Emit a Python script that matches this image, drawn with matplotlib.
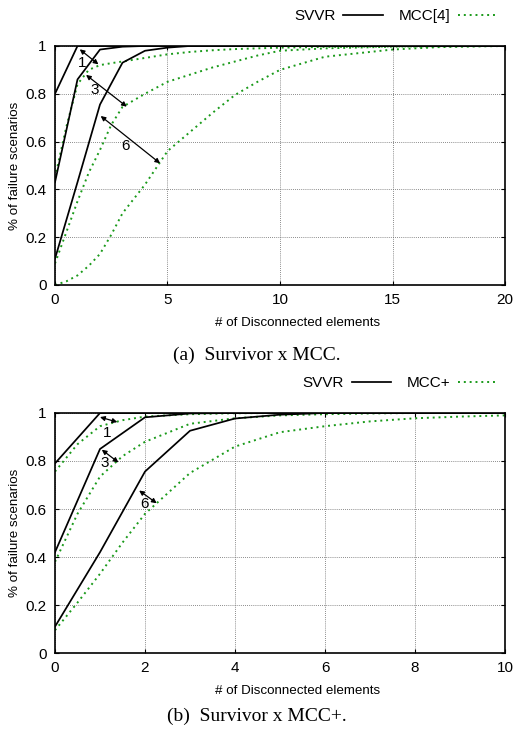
import matplotlib.pyplot as plt

plt.rcParams['font.family'] = ['Liberation Sans', 'DejaVu Sans']

# (a) Survivor x MCC -- SVVR curves (solid) and MCC[4] curves (dotted)
svvr_a_x = [0, 1, 2, 3, 4, 5, 6, 20]
svvr_a_1 = [0.80, 1.0, 1.0, 1.0, 1.0, 1.0, 1.0, 1.0]
svvr_a_3 = [0.43, 0.86, 0.985, 0.997, 1.0, 1.0, 1.0, 1.0]
svvr_a_6 = [0.11, 0.43, 0.755, 0.93, 0.98, 0.993, 1.0, 1.0]

mcc_a_x = [0, 0.5, 1, 1.5, 2, 2.5, 3, 4, 5, 6, 7, 8, 9, 10, 12, 15, 17, 20]
mcc_a_1 = [0.45, 0.66, 0.84, 0.90, 0.92, 0.928, 0.935, 0.95, 0.965, 0.975, 0.982, 0.987,
           0.99, 0.993, 0.996, 0.998, 0.999, 1.0]
mcc_a_3 = [0.09, 0.22, 0.35, 0.47, 0.565, 0.67, 0.745, 0.80, 0.85, 0.88, 0.91, 0.935,
           0.96, 0.98, 0.99, 0.997, 0.999, 1.0]
mcc_a_6 = [0.0, 0.015, 0.04, 0.08, 0.13, 0.21, 0.30, 0.42, 0.56, 0.64, 0.72, 0.795,
           0.85, 0.90, 0.955, 0.985, 0.995, 1.0]

# (b) Survivor x MCC+
svvr_b_x = [0, 1, 2, 3, 4, 5, 6, 10]
svvr_b_1 = [0.79, 1.0, 1.0, 1.0, 1.0, 1.0, 1.0, 1.0]
svvr_b_3 = [0.42, 0.85, 0.982, 0.998, 1.0, 1.0, 1.0, 1.0]
svvr_b_6 = [0.11, 0.42, 0.756, 0.926, 0.977, 0.993, 1.0, 1.0]

mcc_b_x = [0, 0.5, 1, 1.5, 2, 3, 4, 5, 6, 7, 8, 9, 10]
mcc_b_1 = [0.756, 0.87, 0.945, 0.97, 0.985, 0.995, 0.999, 1.0, 1.0, 1.0, 1.0, 1.0, 1.0]
mcc_b_3 = [0.38, 0.58, 0.735, 0.82, 0.88, 0.955, 0.978, 0.99, 0.995, 0.998, 1.0, 1.0, 1.0]
mcc_b_6 = [0.095, 0.21, 0.33, 0.46, 0.58, 0.75, 0.86, 0.92, 0.945, 0.965, 0.978, 0.985, 0.99]

# arrows: (x_start, y_start, x_end, y_end, label, label_x, label_y)
arrows_a = [(1.1, 0.986, 1.93, 0.923, '1', 1.19, 0.93),
            (1.38, 0.879, 3.19, 0.746, '3', 1.75, 0.815),
            (2.03, 0.707, 4.67, 0.509, '6', 3.14, 0.58)]
arrows_b = [(1.0, 0.983, 1.385, 0.962, '1', 1.15, 0.915),
            (1.04, 0.847, 1.41, 0.794, '3', 1.11, 0.79),
            (1.87, 0.677, 2.26, 0.624, '6', 1.98, 0.62)]

green = '#1a9a1a'

fig = plt.figure(figsize=(5.14, 7.32), dpi=100)


def draw(ax, sx, svvr, mx, mcc, arrows, xmax, xstep, mcc_name):
    for i, ys in enumerate(svvr):
        ax.plot(sx, ys, color='black', lw=1.25, label='SVVR' if i == 0 else None, zorder=3)
    for i, ys in enumerate(mcc):
        ax.plot(mx, ys, color=green, lw=1.4, ls=(0, (1, 2.0)),
                label=mcc_name if i == 0 else None, zorder=2)
    for x0, y0, x1, y1, lab, lx, ly in arrows:
        ax.annotate('', xy=(x1, y1), xytext=(x0, y0),
                    arrowprops=dict(arrowstyle='<|-|>', color='black', lw=0.9,
                                    mutation_scale=7, shrinkA=0, shrinkB=0))
        ax.text(lx, ly, lab, fontsize=11, ha='center', va='center')
    ax.set_xlim(0, xmax)
    ax.set_ylim(0, 1)
    ax.set_xticks(range(0, xmax + 1, xstep))
    ax.set_yticks([0, 0.2, 0.4, 0.6, 0.8, 1])
    ax.set_yticklabels(['0', '0.2', '0.4', '0.6', '0.8', '1'])
    ax.tick_params(direction='in', length=3, labelsize=11, top=True, right=True, pad=6)
    ax.grid(True, color='#666666', ls=(0, (1, 1.5)), lw=0.6)
    for s in ax.spines.values():
        s.set_linewidth(1.2)
    ax.set_ylabel('% of failure scenarios', fontsize=9.6, labelpad=3)
    ax.set_xlabel('# of Disconnected elements', fontsize=9.6, labelpad=5)
    ax.xaxis.set_label_coords(0.538, -0.135)
    ax.legend(loc='lower right', bbox_to_anchor=(0.997, 1.07), ncol=2, frameon=False,
              markerfirst=False, fontsize=11, handlelength=2.6, columnspacing=1.0,
              handletextpad=0.5, borderaxespad=0)


ax1 = fig.add_axes([0.107, 0.6107, 0.8755, 0.3265])
draw(ax1, svvr_a_x, [svvr_a_1, svvr_a_3, svvr_a_6], mcc_a_x, [mcc_a_1, mcc_a_3, mcc_a_6],
     arrows_a, 20, 5, 'MCC[4]')
fig.text(0.5, 1 - 355 / 732, '(a)  Survivor x MCC.', ha='center', va='center',
         fontsize=14, family='Liberation Serif')

ax2 = fig.add_axes([0.107, 0.1079, 0.8755, 0.3279])
draw(ax2, svvr_b_x, [svvr_b_1, svvr_b_3, svvr_b_6], mcc_b_x, [mcc_b_1, mcc_b_3, mcc_b_6],
     arrows_b, 10, 2, 'MCC+')
fig.text(0.5, 1 - 716 / 732, '(b)  Survivor x MCC+.', ha='center', va='center',
         fontsize=14, family='Liberation Serif')

fig.savefig('out.png', dpi=100)
